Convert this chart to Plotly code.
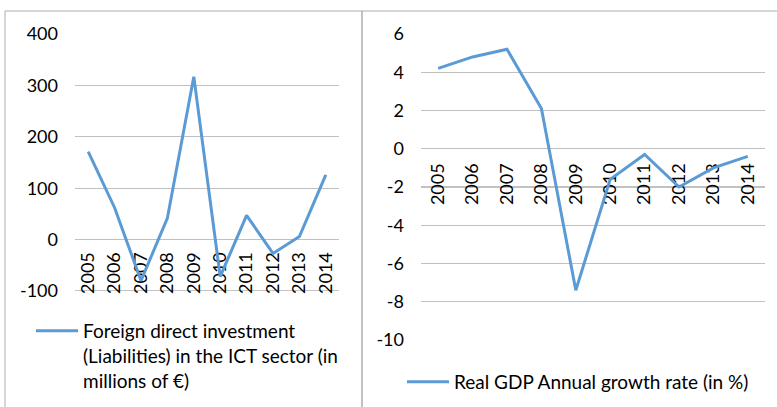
import plotly.graph_objects as go

years = ["2005", "2006", "2007", "2008", "2009", "2010", "2011", "2012", "2013", "2014"]
fdi_values = [171, 62, -80, 42, 317, -72, 47, -27, 6, 126]
gdp_values = [4.2, 4.8, 5.2, 2.1, -7.4, -1.6, -0.3, -2.0, -1.0, -0.4]
fdi_ticks = [-100, 0, 100, 200, 300, 400]
fdi_ticktext = ["-100", "0", "100", "200", "300", "400"]
gdp_ticks = [-10, -8, -6, -4, -2, 0, 2, 4, 6]
gdp_ticktext = ["-10", "-8", "-6", "-4", "-2", "0", "2", "4", "6"]
fdi_name = "Foreign direct investment<br>(Liabilities) in the ICT sector (in<br>millions of €)"
gdp_name = "Real GDP Annual growth rate (in %)"

W, H = 777, 407
FONT = "Lato"
FS = 18
LFS = 19
BLUE = "#5B9BD5"
GRID = "#C0C0C0"
AXIS = "#868686"
FRAME = "#ADADAD"

def py(px):
    return 1 - px / H

def pxx(px):
    return px / W

fig = go.Figure()
fig.add_trace(go.Scatter(x=years, y=fdi_values, mode="lines", name=fdi_name,
                         line=dict(color=BLUE, width=3), xaxis="x", yaxis="y", legend="legend"))
fig.add_trace(go.Scatter(x=years, y=gdp_values, mode="lines", name=gdp_name,
                         line=dict(color=BLUE, width=3), xaxis="x2", yaxis="y2", legend="legend2"))

tf = dict(family=FONT, size=FS, color="#000")
lf = dict(family=FONT, size=LFS, color="#000")

# left panel
y1_top, y1_bot = 34, 291
y1dom = [py(y1_bot), py(y1_top)]
fig.update_layout(
    xaxis=dict(domain=[pxx(75), pxx(339)], anchor="free",
               position=y1dom[0] + (y1dom[1] - y1dom[0]) * 0.2,
               type="category", range=[-0.5, 9.5], tickangle=-90, showgrid=False,
               showline=False, zeroline=False, automargin=False,
               ticks="", ticklabelstandoff=8, layer="below traces", tickfont=tf),
    yaxis=dict(domain=y1dom, anchor="x", range=[-100, 400],
               tickmode="array", tickvals=fdi_ticks, ticktext=fdi_ticktext,
               showgrid=True, gridcolor=GRID, gridwidth=1, zeroline=False, showline=False,
               automargin=False, ticks="", ticklabelstandoff=16, tickfont=tf),
)
# right panel
y2_top, y2_bot = 34, 340
y2dom = [py(y2_bot), py(y2_top)]
fig.update_layout(
    xaxis2=dict(domain=[pxx(421), pxx(765)], anchor="free",
                position=y2dom[0] + (y2dom[1] - y2dom[0]) * (10 / 16),
                type="category", range=[-0.5, 9.5], tickangle=-90, showgrid=False,
                showline=False, zeroline=False, automargin=False,
                ticks="", ticklabelstandoff=10, layer="below traces", tickfont=tf),
    yaxis2=dict(domain=y2dom, anchor="x2", range=[-10, 6],
                tickmode="array", tickvals=gdp_ticks, ticktext=gdp_ticktext,
                showgrid=True, gridcolor=GRID, gridwidth=1, zeroline=False, showline=False,
                automargin=False, ticks="", ticklabelstandoff=16, tickfont=tf),
)

shapes = [
    dict(type="rect", xref="paper", yref="paper", x0=pxx(5), x1=pxx(362), y0=-0.1, y1=py(11),
         line=dict(color=FRAME, width=1), layer="below"),
    dict(type="rect", xref="paper", yref="paper", x0=pxx(362), x1=1.1, y0=-0.1, y1=py(11),
         line=dict(color=FRAME, width=1), layer="below"),
    dict(type="line", xref="x domain", yref="y", x0=0, x1=1, y0=-100, y1=-100,
         line=dict(color=AXIS, width=1), layer="below"),
    dict(type="line", xref="x2 domain", yref="y2", x0=0, x1=1, y0=-2, y1=-2,
         line=dict(color=AXIS, width=1), layer="below"),
]

fig.update_layout(
    width=W, height=H, margin=dict(l=0, r=0, t=0, b=0, autoexpand=False),
    paper_bgcolor="white", plot_bgcolor="white",
    shapes=shapes, showlegend=True,
    legend=dict(x=pxx(31), y=py(312), xanchor="left", yanchor="top", valign="top",
                font=lf, bgcolor="rgba(0,0,0,0)", itemwidth=42, tracegroupgap=0),
    legend2=dict(x=pxx(402), y=py(363), xanchor="left", yanchor="top", valign="top",
                 font=lf, bgcolor="rgba(0,0,0,0)", itemwidth=42),
)

fig.write_html("out.html", config={"displayModeBar": False},
               post_script="document.body.style.margin='0';")
